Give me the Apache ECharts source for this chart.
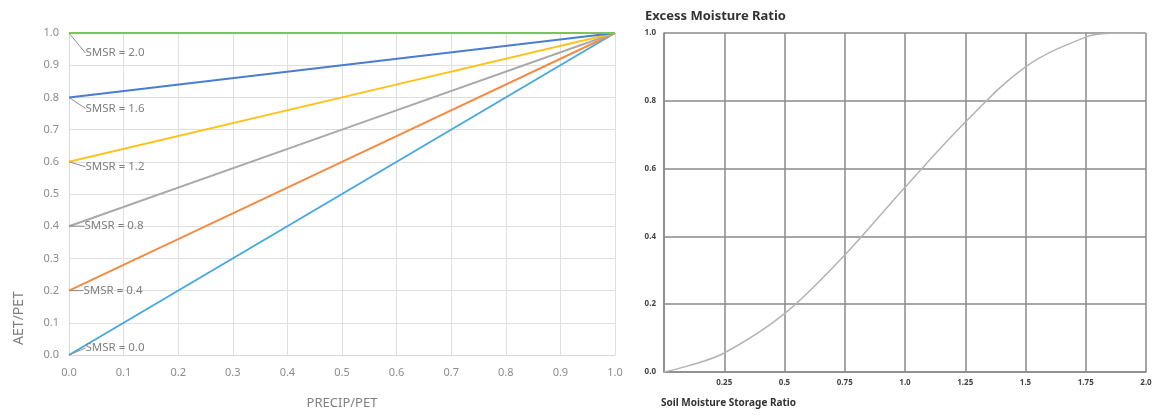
<!DOCTYPE html>
<html>
<head>
<meta charset="utf-8">
<script src="https://cdn.jsdelivr.net/npm/echarts@6/dist/echarts.min.js"></script>
<style>
html,body{margin:0;padding:0;background:#fff;}
#chart{width:1157px;height:416px;}
</style>
</head>
<body>
<div id="chart"></div>
<script>
// ---- Left chart data: AET/PET vs PRECIP/PET for several SMSR values ----
const smsrNames   = ['SMSR = 0.0', 'SMSR = 0.4', 'SMSR = 0.8', 'SMSR = 1.2', 'SMSR = 1.6', 'SMSR = 2.0'];
const precipPet   = [0.0, 0.5, 1.0];
const aet00 = [0.0, 0.5, 1.0];
const aet04 = [0.2, 0.6, 1.0];
const aet08 = [0.4, 0.7, 1.0];
const aet12 = [0.6, 0.8, 1.0];
const aet16 = [0.8, 0.9, 1.0];
const aet20 = [1.0, 1.0, 1.0];
const leftTickLabels = ['0.0','0.1','0.2','0.3','0.4','0.5','0.6','0.7','0.8','0.9','1.0'];

// ---- Right chart data: Excess Moisture Ratio vs Soil Moisture Storage Ratio ----
const smsRatio = [0, 0.1, 0.25, 0.5, 0.75, 1.0, 1.25, 1.5, 1.75, 1.85, 2.0];
const excessRatio = [0, 0.018, 0.056, 0.172, 0.345, 0.545, 0.737, 0.9, 0.988, 0.999, 1.0];
const rightXTickLabels = ['', '0.25', '0.5', '0.75', '1.0', '1.25', '1.5', '1.75', '2.0'];
const rightYTickLabels = ['0.0', '0.2', '0.4', '0.6', '0.8', '1.0'];

const leftSeriesValues = [aet00, aet04, aet08, aet12, aet16, aet20];
const leftColors = ['#4aa8e0', '#f38b45', '#a9a9a9', '#ffc21a', '#4a7ccf', '#7cc35a'];
const labelOffsets = [[10, -7], [8, 0], [9, 0], [10, 5], [10, 11], [10, 20]];

const chart = echarts.init(document.getElementById('chart'));
const baseFont = "'Noto Sans', 'Open Sans', sans-serif";

const leftSeries = leftSeriesValues.map((vals, i) => ({
  type: 'line',
  name: smsrNames[i],
  xAxisIndex: 0, yAxisIndex: 0,
  data: precipPet.map((p, j) => j === 0
    ? { value: [p, vals[j]], label: { show: true } }
    : [p, vals[j]]),
  symbol: 'circle',
  symbolSize: 1,
  showSymbol: true,
  itemStyle: { color: 'rgba(0,0,0,0)' },
  z: i === 5 ? 3 : 2,
  lineStyle: { color: leftColors[i], width: 2 },
  label: {
    show: false,
    position: 'right',
    distance: 0,
    padding: [0, 0, 0, 6],
    formatter: smsrNames[i],
    color: '#7f7f7f',
    fontSize: 11.5,
    fontFamily: baseFont
  },
  labelLayout: { dx: labelOffsets[i][0], dy: labelOffsets[i][1] },
  labelLine: { show: true, lineStyle: { color: '#8c8c8c', width: 1 } },
  emphasis: { disabled: true }
}));

const option = {
  animation: false,
  title: [{
    text: 'Excess Moisture Ratio',
    left: 640, top: 5,
    textStyle: { fontSize: 13, fontWeight: 'bold', color: '#333', fontFamily: baseFont }
  }],
  grid: [
    { left: 69, right: 542, top: 33, bottom: 61 },
    { left: 664, right: 11, top: 33, bottom: 44 }
  ],
  xAxis: [{
    gridIndex: 0, type: 'value', min: 0, max: 1, interval: 0.1,
    name: 'PRECIP/PET', nameLocation: 'middle', nameGap: 42,
    nameTextStyle: { color: '#7f7f7f', fontSize: 13, fontFamily: baseFont },
    axisLine: { show: true, lineStyle: { color: '#d9d9d9' } },
    axisTick: { show: false },
    axisLabel: { color: '#8c8c8c', fontSize: 11, margin: 12, fontFamily: baseFont,
      formatter: v => leftTickLabels[Math.round(v * 10)] },
    splitLine: { show: true, lineStyle: { color: '#e0e0e0', width: 1 } }
  }, {
    gridIndex: 1, type: 'value', min: 0, max: 2, interval: 0.25,
    name: 'Soil Moisture Storage Ratio', nameLocation: 'start', nameGap: 0,
    nameTextStyle: { color: '#333', fontSize: 10, fontWeight: 'bold', fontFamily: baseFont,
      align: 'left', verticalAlign: 'top', padding: [26, 0, 0, -3] },
    axisLine: { show: true, lineStyle: { color: '#8a8a8a', width: 1.5 } },
    axisTick: { show: false },
    axisLabel: { color: '#444', fontSize: 8, fontWeight: 'bold', margin: 7, fontFamily: baseFont,
      showMinLabel: true,
      formatter: v => rightXTickLabels[Math.round(v / 0.25)] },
    splitLine: { show: true, lineStyle: { color: '#8a8a8a', width: 1.5 } }
  }],
  yAxis: [{
    gridIndex: 0, type: 'value', min: 0, max: 1, interval: 0.1,
    axisLine: { show: true, lineStyle: { color: '#d9d9d9' } },
    axisTick: { show: false },
    axisLabel: { color: '#8c8c8c', fontSize: 11, margin: 10, fontFamily: baseFont,
      formatter: v => leftTickLabels[Math.round(v * 10)] },
    splitLine: { show: true, lineStyle: { color: '#e0e0e0', width: 1 } }
  }, {
    gridIndex: 1, type: 'value', min: 0, max: 1, interval: 0.2,
    axisLine: { show: true, lineStyle: { color: '#8a8a8a', width: 1.5 } },
    axisTick: { show: false },
    axisLabel: { color: '#444', fontSize: 8, fontWeight: 'bold', margin: 8, fontFamily: baseFont,
      formatter: v => rightYTickLabels[Math.round(v / 0.2)] },
    splitLine: { show: true, lineStyle: { color: '#8a8a8a', width: 1.5 } }
  }],
  graphic: [{
    type: 'text', x: 19, y: 318, rotation: Math.PI / 2,
    style: { text: 'AET/PET', fill: '#7f7f7f', fontSize: 14, fontFamily: baseFont,
      align: 'center', verticalAlign: 'middle' }
  }],
  series: leftSeries.concat([{
    type: 'line',
    name: 'Excess Moisture Ratio',
    xAxisIndex: 1, yAxisIndex: 1,
    data: smsRatio.map((x, i) => [x, excessRatio[i]]),
    smooth: 0.35,
    symbol: 'none',
    lineStyle: { color: '#b3b3b3', width: 1.5 },
    emphasis: { disabled: true }
  }])
};
chart.setOption(option);
</script>
</body>
</html>
